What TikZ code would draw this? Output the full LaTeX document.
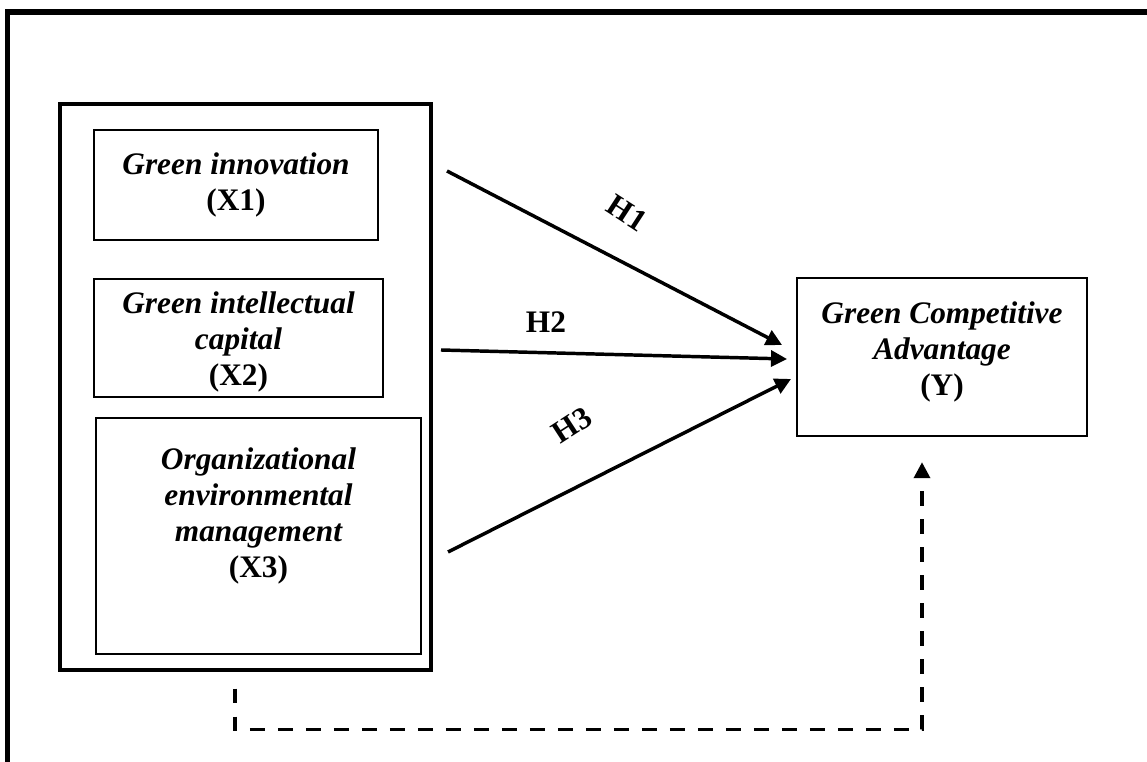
\documentclass[tikz,border=0pt]{standalone}
\usepackage{fontspec}
\setmainfont{Liberation Serif}
\usetikzlibrary{arrows.meta,positioning}
\newcommand{\Code}[1]{\textup{(#1)}}

\begin{document}
\begin{tikzpicture}[
    x = 0.75pt, y = -0.75pt,
    frame/.style =
    { line width = 4pt },
    block/.style =
    { draw,
      line width = 2.6pt,
      inner sep  = 0pt },
    construct/.style =
    { draw,
      line width = 1.8pt,
      align      = center,
      inner sep  = 0pt,
      font       = \fontsize{23.5}{27}\selectfont\bfseries\itshape },
    influence/.style =
    { -{Triangle[length = 12pt, width = 12pt]},
      line width = 2.6pt },
    feedback/.style =
    { -{Triangle[length = 12pt, width = 12pt]},
      line width   = 2.6pt,
      dash pattern = on 11pt off 10pt },
    hyp/.style =
    { font = \fontsize{23.5}{27}\selectfont\bfseries }
  ]
  \useasboundingbox (0,0) rectangle (1147,762);
  \draw[frame] (7.5,762) |- (1147,12);

  \node[block, minimum width = 278pt, minimum height = 424.5pt] (group) at (245.5,387) {};
  \node[construct, minimum width = 213pt, minimum height = 82.5pt] (x1) at (236,185)
    {Green innovation\\\Code{X1}};
  \node[construct, minimum width = 216.75pt, minimum height = 88.5pt] (x2) at (238.5,338)
    {\rule{0pt}{23pt}Green intellectual\\capital\\\Code{X2}};
  \node[construct, minimum width = 243.75pt, minimum height = 177pt] (x3) at (258.5,536)
    {Organizational\\environmental\\management\\\Code{X3}\\[8pt]\mbox{}};
  \node[construct, minimum width = 217.5pt, minimum height = 118.5pt] (y) at (942,357)
    {Green Competitive\\Advantage\\\Code{Y}\\[-15pt]\mbox{}};

  \coordinate (s1) at (447,171);
  \coordinate (e1) at (782,345);
  \coordinate (s2) at (441,350);
  \coordinate (e2) at (787,359);
  \coordinate (s3) at (448,552);
  \coordinate (e3) at (791,379);

  \draw[influence] (s1) -- (e1);
  \draw[influence] (s2) -- (e2);
  \draw[influence] (s3) -- (e3);
  \draw[feedback, shorten <= 12.75pt, shorten >= 18.75pt]
    ([xshift = -8pt]group.south) -- ++(0,58) -| ([xshift = -15pt]y.south);

  \node[hyp, rotate = -33] (h1) at (627,213) {H1};
  \node[hyp] (h2) at (546,322) {H2};
  \node[hyp, rotate = 33] (h3) at (572,425) {H3};
\end{tikzpicture}
\end{document}
